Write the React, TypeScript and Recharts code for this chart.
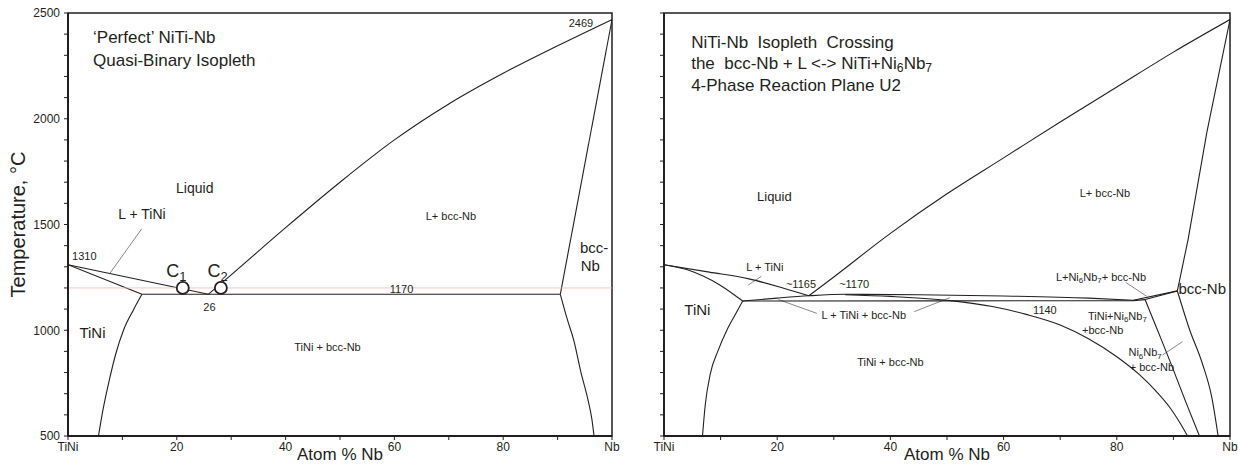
import React from 'react';
import { LineChart, Line, XAxis, YAxis, ReferenceArea, ReferenceDot } from 'recharts';

type Pt = { x: number; t: number };
type Note = { text: string; x: number; t: number };

// x = atom % Nb, t = temperature in degC

// ---------- left panel: 'perfect' quasi-binary isopleth ----------
const leftLiquidusTiNi: Pt[] = [{ x: 0, t: 1310 }, { x: 25.8, t: 1170 }];
const leftSolidusTiNi: Pt[] = [{ x: 0, t: 1310 }, { x: 13.6, t: 1170 }];
const leftSolvusTiNi: Pt[] = [
  { x: 5.6, t: 500 }, { x: 6.4, t: 620 }, { x: 7.6, t: 765 }, { x: 8.8, t: 890 },
  { x: 10.2, t: 1000 }, { x: 12, t: 1095 }, { x: 13.6, t: 1170 },
];
const leftEutectic: Pt[] = [{ x: 13.6, t: 1170 }, { x: 90.5, t: 1170 }];
const leftLiquidusNb: Pt[] = [
  { x: 25.8, t: 1170 }, { x: 30, t: 1262 }, { x: 40, t: 1485 }, { x: 50, t: 1700 },
  { x: 60, t: 1900 }, { x: 70, t: 2070 }, { x: 80, t: 2215 }, { x: 90, t: 2345 },
  { x: 100, t: 2469 },
];
const leftSolidusNb: Pt[] = [{ x: 90.5, t: 1170 }, { x: 100, t: 2469 }];
const leftSolvusNb: Pt[] = [
  { x: 90.5, t: 1170 }, { x: 91.8, t: 1050 }, { x: 93, t: 950 }, { x: 94.3, t: 800 },
  { x: 95.5, t: 680 }, { x: 96.3, t: 580 }, { x: 96.7, t: 500 },
];
const leftSection: Pt[] = [{ x: 0, t: 1200 }, { x: 100, t: 1200 }];
const leftPointer: Pt[] = [{ x: 7.7, t: 1269 }, { x: 13.5, t: 1478 }];
const leftAlloys: Pt[] = [{ x: 21.1, t: 1200 }, { x: 28.1, t: 1200 }];

const leftTitle: Note[] = [
  { text: '\u2018Perfect\u2019 NiTi-Nb', x: 4.6, t: 2387 },
  { text: 'Quasi-Binary Isopleth', x: 4.6, t: 2278 },
];
const leftPhaseBig: Note[] = [
  { text: 'TiNi', x: 4.5, t: 994 },
  { text: 'bcc-', x: 96.7, t: 1395 },
  { text: 'Nb', x: 96.0, t: 1308 },
];
const leftPhaseMid: Note[] = [
  { text: 'Liquid', x: 23.3, t: 1673 },
  { text: 'L + TiNi', x: 13.6, t: 1550 },
];
const leftSmall: Note[] = [
  { text: 'L+ bcc-Nb', x: 70.4, t: 1540 },
  { text: '2469', x: 94.3, t: 2455 },
  { text: '1310', x: 3.0, t: 1353 },
  { text: '26', x: 26, t: 1110 },
  { text: '1170', x: 61.3, t: 1193 },
  { text: 'TiNi + bcc-Nb', x: 47.7, t: 921 },
];
const leftAlloyNames: Note[] = [
  { text: 'C_1', x: 19.9, t: 1280 },
  { text: 'C_2', x: 27.5, t: 1280 },
];

// ---------- right panel: isopleth through the U2 plane ----------
const rightLiquidusTiNi: Pt[] = [
  { x: 0, t: 1310 }, { x: 8, t: 1275 }, { x: 15, t: 1243 }, { x: 21, t: 1200 }, { x: 25.6, t: 1163 },
];
const rightSolidusTiNi: Pt[] = [
  { x: 0, t: 1310 }, { x: 4, t: 1287 }, { x: 7, t: 1255 }, { x: 10, t: 1212 }, { x: 13.9, t: 1138 },
];
const rightSolvusTiNi: Pt[] = [
  { x: 6.8, t: 500 }, { x: 7.3, t: 650 }, { x: 8.2, t: 796 }, { x: 9.5, t: 900 },
  { x: 11.1, t: 1000 }, { x: 12.5, t: 1070 }, { x: 13.9, t: 1138 },
];
const rightLiquidusNb: Pt[] = [
  { x: 25.6, t: 1163 }, { x: 30, t: 1252 }, { x: 40, t: 1458 }, { x: 50, t: 1645 },
  { x: 60, t: 1815 }, { x: 70, t: 1985 }, { x: 80, t: 2150 }, { x: 90, t: 2315 },
  { x: 100, t: 2469 },
];
const rightSolidusNb: Pt[] = [
  { x: 90.7, t: 1186 }, { x: 92.6, t: 1430 }, { x: 95.9, t: 1934 }, { x: 100, t: 2469 },
];
const rightSolvusNb: Pt[] = [
  { x: 90.7, t: 1186 }, { x: 92.9, t: 1000 }, { x: 95.1, t: 844 }, { x: 96.8, t: 680 }, { x: 97.9, t: 500 },
];
const rightThreePhaseTop: Pt[] = [
  { x: 13.9, t: 1138 }, { x: 20, t: 1152 }, { x: 25.6, t: 1163 }, { x: 32, t: 1170 },
  { x: 45, t: 1168 }, { x: 60, t: 1162 }, { x: 75, t: 1152 }, { x: 82.9, t: 1142 },
];
const rightPlaneU2: Pt[] = [{ x: 13.9, t: 1138 }, { x: 50, t: 1139 }, { x: 82.9, t: 1140 }, { x: 85, t: 1145 }];
const rightTiNiBoundary: Pt[] = [
  { x: 32, t: 1168 }, { x: 40, t: 1160 }, { x: 50.7, t: 1140 }, { x: 58, t: 1112 },
  { x: 64, t: 1075 }, { x: 70, t: 1025 }, { x: 75, t: 960 }, { x: 80, t: 875 },
  { x: 84, t: 790 }, { x: 87, t: 710 }, { x: 89.5, t: 630 }, { x: 91.2, t: 560 }, { x: 92.5, t: 500 },
];
const rightNi6Nb7Boundary: Pt[] = [
  { x: 85, t: 1145 }, { x: 87.2, t: 1000 }, { x: 89.6, t: 840 }, { x: 92.2, t: 660 }, { x: 94.6, t: 500 },
];
const rightTieA: Pt[] = [{ x: 82.9, t: 1142 }, { x: 90.7, t: 1186 }];
const rightTieB: Pt[] = [{ x: 85, t: 1145 }, { x: 90.7, t: 1186 }];

const rightPointers: Pt[][] = [
  [{ x: 14.9, t: 1214 }, { x: 17.2, t: 1255 }],
  [{ x: 27, t: 1080 }, { x: 20.2, t: 1145 }],
  [{ x: 44.2, t: 1088 }, { x: 50.5, t: 1154 }],
  [{ x: 81.6, t: 1226 }, { x: 85.2, t: 1162 }],
  [{ x: 88.1, t: 883 }, { x: 91.6, t: 946 }],
];

const rightTitle: Note[] = [
  { text: 'NiTi-Nb  Isopleth  Crossing', x: 4.8, t: 2363 },
  { text: 'the  bcc-Nb + L <-> NiTi+Ni_6Nb_7', x: 4.8, t: 2264 },
  { text: '4-Phase Reaction Plane U2', x: 4.8, t: 2160 },
];
const rightPhaseBig: Note[] = [
  { text: 'TiNi', x: 5.9, t: 1100 },
  { text: 'bcc-Nb', x: 95.1, t: 1200 },
];
const rightPhaseMid: Note[] = [{ text: 'Liquid', x: 19.5, t: 1635 }];
const rightSmall: Note[] = [
  { text: 'L+ bcc-Nb', x: 77.9, t: 1649 },
  { text: 'L + TiNi', x: 17.8, t: 1300 },
  { text: '~1165', x: 24.2, t: 1219 },
  { text: '~1170', x: 33.6, t: 1219 },
  { text: 'L + TiNi + bcc-Nb', x: 35.3, t: 1072 },
  { text: '1140', x: 67.3, t: 1096 },
  { text: 'L+Ni_6Nb_7+ bcc-Nb', x: 77.2, t: 1252 },
  { text: 'TiNi+Ni_6Nb_7', x: 80.1, t: 1067 },
  { text: '+bcc-Nb', x: 77.5, t: 1001 },
  { text: 'Ni_6Nb_7', x: 85, t: 895 },
  { text: '+ bcc-Nb', x: 86.2, t: 828 },
  { text: 'TiNi + bcc-Nb', x: 40, t: 851 },
];

// axes
const xTicks = [0, 10, 20, 30, 40, 50, 60, 70, 80, 90, 100];
const xTickNames: Record<number, string> = { 0: 'TiNi', 20: '20', 40: '40', 60: '60', 80: '80', 100: 'Nb' };
const yTicks = [500, 600, 700, 800, 900, 1000, 1100, 1200, 1300, 1400, 1500, 1600, 1700, 1800, 1900, 2000, 2100, 2200, 2300, 2400, 2500];

const FONT = '"Liberation Sans", Arial, Helvetica, sans-serif';
const INK = '#231f20';

type Curve = { data: Pt[]; curve: 'linear' | 'monotone' };

const leftCurves: Curve[] = [
  { data: leftLiquidusTiNi, curve: 'linear' },
  { data: leftSolidusTiNi, curve: 'linear' },
  { data: leftSolvusTiNi, curve: 'monotone' },
  { data: leftEutectic, curve: 'linear' },
  { data: leftLiquidusNb, curve: 'monotone' },
  { data: leftSolidusNb, curve: 'linear' },
  { data: leftSolvusNb, curve: 'monotone' },
];
const rightCurves: Curve[] = [
  { data: rightLiquidusTiNi, curve: 'monotone' },
  { data: rightSolidusTiNi, curve: 'monotone' },
  { data: rightSolvusTiNi, curve: 'monotone' },
  { data: rightLiquidusNb, curve: 'monotone' },
  { data: rightSolidusNb, curve: 'linear' },
  { data: rightSolvusNb, curve: 'monotone' },
  { data: rightThreePhaseTop, curve: 'monotone' },
  { data: rightPlaneU2, curve: 'linear' },
  { data: rightTiNiBoundary, curve: 'monotone' },
  { data: rightNi6Nb7Boundary, curve: 'monotone' },
  { data: rightTieA, curve: 'linear' },
  { data: rightTieB, curve: 'linear' },
];

// "_6" -> subscript 6
function richText(text: string, size: number) {
  const parts = text.split(/_(\d)/);
  const shift = size * 0.28;
  const out: React.ReactNode[] = [];
  let low = false;
  parts.forEach((p, i) => {
    if (i % 2 === 1) {
      out.push(<tspan key={i} dy={shift} fontSize={size * 0.72}>{p}</tspan>);
      low = true;
    } else if (p) {
      out.push(<tspan key={i} dy={low ? -shift : 0}>{p}</tspan>);
      low = false;
    }
  });
  return out;
}

function notes(list: Note[], size: number, anchor: 'start' | 'middle', key: string) {
  return list.map((n, i) => (
    <ReferenceDot
      key={key + i}
      x={n.x}
      y={n.t}
      r={1}
      ifOverflow="visible"
      shape={(p: any) => (
        <text
          x={p.cx}
          y={p.cy}
          textAnchor={anchor}
          dominantBaseline="central"
          fontSize={size}
          fontFamily={FONT}
          fill={INK}
          style={{ whiteSpace: 'pre' }}
        >
          {richText(n.text, size)}
        </text>
      )}
    />
  ));
}

interface PanelProps {
  width: number;
  left: number;
  axisWidth: number;
  yLabels: boolean;
  curves: Curve[];
  pointers: Pt[][];
  children?: React.ReactNode;
}

const Panel: React.FC<PanelProps> = ({ width, left, axisWidth, yLabels, curves, pointers, children }) => (
  <LineChart width={width} height={472} margin={{ top: 13, right: 8, bottom: 0, left }}>
    <XAxis
      type="number"
      dataKey="x"
      domain={[0, 100]}
      ticks={xTicks}
      interval={0}
      allowDataOverflow
      height={36}
      tickSize={4}
      tickMargin={2}
      tickFormatter={(v: number) => xTickNames[v] ?? ''}
      axisLine={{ stroke: INK, strokeWidth: 2 }}
      tickLine={{ stroke: INK }}
      tick={{ fontSize: 12, fill: INK, fontFamily: FONT }}
      label={{ value: 'Atom % Nb', position: 'insideBottom', offset: 12, fontSize: 17, fill: INK, fontFamily: FONT }}
    />
    <YAxis
      type="number"
      domain={[500, 2500]}
      ticks={yTicks}
      interval={0}
      allowDataOverflow
      width={axisWidth}
      tickSize={4}
      tickMargin={4}
      tickFormatter={(v: number) => (yLabels && v % 500 === 0 ? String(v) : '')}
      axisLine={{ stroke: INK, strokeWidth: 2 }}
      tickLine={{ stroke: INK }}
      tick={{ fontSize: 12, fill: INK, fontFamily: FONT }}
      label={
        yLabels
          ? {
              value: 'Temperature, \u00b0C',
              angle: -90,
              position: 'insideLeft',
              offset: 10,
              fontSize: 20,
              fill: INK,
              fontFamily: FONT,
              style: { textAnchor: 'middle' },
            }
          : undefined
      }
    />
    <ReferenceArea x1={0} x2={100} y1={500} y2={2500} fill="none" stroke={INK} strokeWidth={1.5} ifOverflow="visible" />
    {pointers.map((d, i) => (
      <Line key={'p' + i} data={d} dataKey="t" type="linear" stroke="#555" strokeWidth={0.7} dot={false} activeDot={false} isAnimationActive={false} />
    ))}
    {curves.map((c, i) => (
      <Line key={'c' + i} data={c.data} dataKey="t" type={c.curve} stroke={INK} strokeWidth={1.1} dot={false} activeDot={false} isAnimationActive={false} />
    ))}
    {children}
  </LineChart>
);

export default function App() {
  return (
    <div style={{ position: 'absolute', left: 0, top: 0, width: 1238, height: 472, background: '#fff' }}>
      <div style={{ position: 'absolute', left: 0, top: 0 }}>
        <Panel width={620} left={8} axisWidth={60} yLabels curves={leftCurves} pointers={[leftPointer]}>
          <Line data={leftSection} dataKey="t" type="linear" stroke="#f4b4b4" strokeWidth={0.8} dot={false} activeDot={false} isAnimationActive={false} />
          {leftAlloys.map((a, i) => (
            <ReferenceDot key={'a' + i} x={a.x} y={a.t} r={6} fill="#fff" stroke={INK} strokeWidth={1.8} ifOverflow="visible" />
          ))}
          {notes(leftTitle, 17, 'start', 'lt')}
          {notes(leftPhaseBig, 15, 'middle', 'lb')}
          {notes(leftPhaseMid, 14, 'middle', 'lm')}
          {notes(leftSmall, 11, 'middle', 'ls')}
          {notes(leftAlloyNames, 18, 'middle', 'la')}
        </Panel>
      </div>
      <div style={{ position: 'absolute', left: 620, top: 0 }}>
        <Panel width={618} left={0} axisWidth={44} yLabels={false} curves={rightCurves} pointers={rightPointers}>
          {notes(rightTitle, 17, 'start', 'rt')}
          {notes(rightPhaseBig, 15, 'middle', 'rb')}
          {notes(rightPhaseMid, 13, 'middle', 'rm')}
          {notes(rightSmall, 11, 'middle', 'rs')}
        </Panel>
      </div>
    </div>
  );
}
